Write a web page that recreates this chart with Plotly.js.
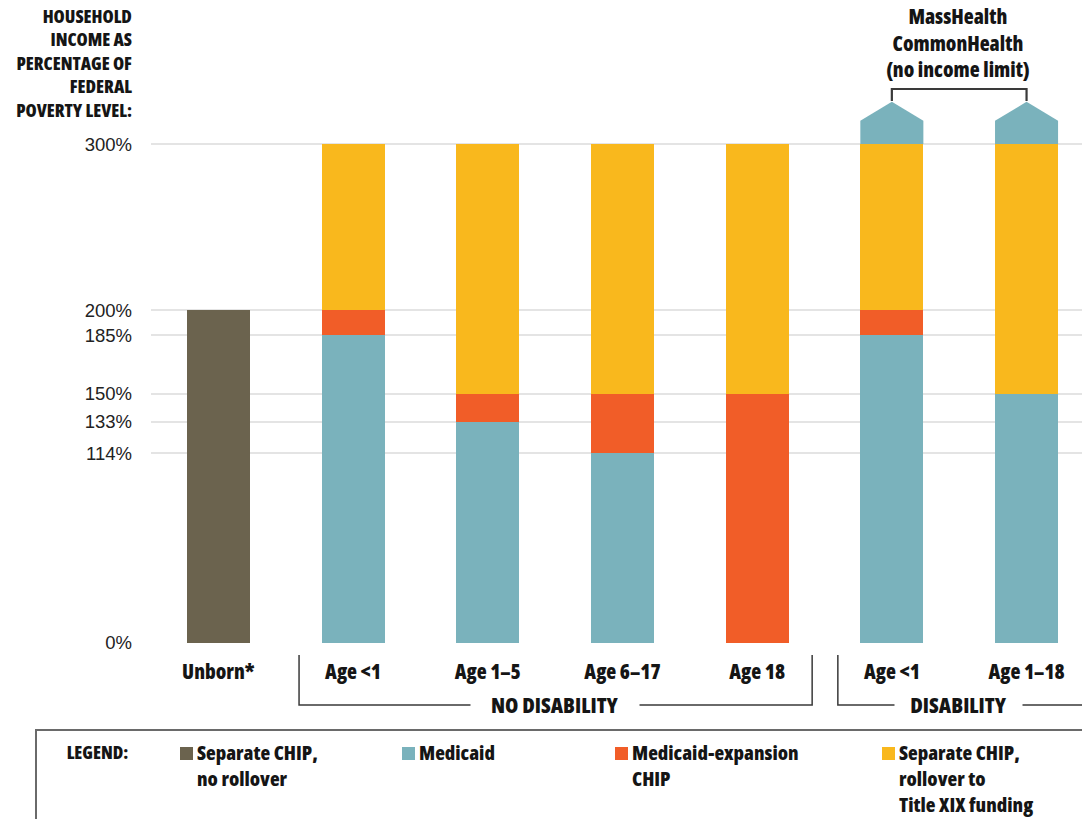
<!DOCTYPE html>
<html>
<head>
<meta charset="utf-8">
<script src="https://cdn.plot.ly/plotly-3.0.1.min.js"></script>
<style>html,body{margin:0;padding:0;background:#fff;}#chart{width:1082px;height:819px;}
.main-svg .annotation-text, .main-svg .xtick text { font-stretch: 82%; }
</style>
</head>
<body>
<div id="chart"></div>
<script>
// ---- data ----
const categories = ["Unborn*", "Age <1", "Age 1–5", "Age 6–17", "Age 18", "Age <1", "Age 1–18"];
const separateNoRollover = [200, 0, 0, 0, 0, 0, 0];
const medicaid = [0, 185, 133, 114, 0, 185, 150];
const medicaidExpansion = [0, 15, 17, 36, 150, 15, 0];
const separateRollover = [0, 100, 150, 150, 150, 100, 150];
const yTickVals = [0, 114, 133, 150, 185, 200, 300];
const yTickText = ["0%", "114%", "133%", "150%", "185%", "200%", "300%"];
const noLimitCats = [5, 6];           // bars with MassHealth CommonHealth
const groups = [
  {label: "NO DISABILITY", from: 1, to: 4},
  {label: "DISABILITY", from: 5, to: 6}
];
const legendItems = [
  {label: "Separate CHIP,<br>no rollover", color: "#6b634e"},
  {label: "Medicaid", color: "#7ab2bc"},
  {label: "Medicaid-expansion<br>CHIP", color: "#f15d28"},
  {label: "Separate CHIP,<br>rollover to<br>Title XIX funding", color: "#f9b81d"}
];

// ---- layout geometry ----
const W = 1082, H = 819;
const mL = 151, mR = 0, mT = 80, mB = 176;
const plotW = W - mL - mR, plotH = H - mT - mB;
const catPx = 134.7;
const xMax = plotW / catPx - 0.5;
const yMax = 338.5;
const barW = 0.468;
const px = x => (x - mL) / plotW;
const py = y => (H - mB - y) / plotH;
const NARROW = "'Open Sans', 'DejaVu Sans Condensed', sans-serif";
const TXT = "#151515";
const WT = 800;

const x = categories.map((c, i) => i);
function barTrace(vals, color, name) {
  return {type: "bar", x: x, y: vals, name: name, width: barW,
    marker: {color: color, line: {width: 0}}, hoverinfo: "skip", showlegend: false};
}
const data = [
  barTrace(separateNoRollover, legendItems[0].color, "Separate CHIP, no rollover"),
  barTrace(medicaid, legendItems[1].color, "Medicaid"),
  barTrace(medicaidExpansion, legendItems[2].color, "Medicaid-expansion CHIP"),
  barTrace(separateRollover, legendItems[3].color, "Separate CHIP, rollover")
];

const shapes = [];
const annotations = [];
const xc = i => mL + (i + 0.5) * catPx;   // category centre in px

// CommonHealth pentagons
const topVal = 300, shoulder = 314, peak = 325.4;
noLimitCats.forEach(i => {
  const a = i - barW / 2, b = i + barW / 2;
  shapes.push({type: "path", xref: "x", yref: "y",
    path: `M ${a},${topVal} L ${a},${shoulder} L ${i},${peak} L ${b},${shoulder} L ${b},${topVal} Z`,
    fillcolor: legendItems[1].color, line: {width: 0}, layer: "above"});
});
// bracket above pentagons
const brY = py(89);
shapes.push({type: "path", xref: "paper", yref: "paper",
  path: `M ${px(xc(5))},${py(101)} L ${px(xc(5))},${brY} L ${px(xc(6))},${brY} L ${px(xc(6))},${py(101)}`,
  line: {color: "#3a3a3a", width: 2.2}});
annotations.push({xref: "paper", yref: "paper", x: px(958), y: py(43), xanchor: "center", yanchor: "middle",
  text: "MassHealth<br>CommonHealth<br>(no income limit)", showarrow: false, align: "center",
  font: {family: NARROW, size: 20.5, color: TXT, weight: WT}});

// group brackets under axis
const gTop = py(655), gBot = py(705);
groups.forEach((g, k) => {
  const left = xc(g.from) - 54;
  let right = xc(g.to) + 55;
  const last = k === groups.length - 1;
  if (last) right = W + 20;
  shapes.push({type: "path", xref: "paper", yref: "paper",
    path: `M ${px(left)},${gTop} L ${px(left)},${gBot} L ${px(right)},${gBot}` + (last ? "" : ` L ${px(right)},${gTop}`),
    line: {color: "#3a3a3a", width: 1.5}});
  const cx = last ? 958 : (left + right) / 2 - 1;
  annotations.push({xref: "paper", yref: "paper", x: px(cx), y: py(704), xanchor: "center", yanchor: "middle",
    text: g.label, showarrow: false, bgcolor: "#ffffff", borderpad: 3,
    font: {family: NARROW, size: 21.5, color: TXT, weight: WT}});
});

// y-axis title
annotations.push({xref: "paper", yref: "paper", x: px(134), y: py(63), xanchor: "right", yanchor: "middle",
  text: "HOUSEHOLD<br>INCOME AS<br>PERCENTAGE OF<br>FEDERAL<br>POVERTY LEVEL:", showarrow: false, align: "right",
  font: {family: NARROW, size: 18, color: TXT, weight: WT}});

// legend box
shapes.push({type: "rect", xref: "paper", yref: "paper", x0: px(36), x1: px(W + 20), y0: py(730), y1: py(H + 20),
  line: {color: "#6a6a6a", width: 2}, fillcolor: "rgba(0,0,0,0)"});
annotations.push({xref: "paper", yref: "paper", x: px(57), y: py(752), xanchor: "left", yanchor: "middle",
  text: "LEGEND:", showarrow: false, font: {family: NARROW, size: 18, color: TXT, weight: WT}});
const legX = [180, 402, 615, 882];
legendItems.forEach((it, k) => {
  const sx = legX[k];
  shapes.push({type: "rect", xref: "paper", yref: "paper", x0: px(sx), x1: px(sx + 13), y0: py(747), y1: py(760),
    fillcolor: it.color, line: {width: 0}});
  annotations.push({xref: "paper", yref: "paper", x: px(sx + 15), y: py(737), xanchor: "left", yanchor: "top",
    text: it.label, showarrow: false, align: "left",
    font: {family: NARROW, size: 20, color: TXT, weight: WT}});
});

const layout = {
  width: W, height: H,
  margin: {l: mL, r: mR, t: mT, b: mB, pad: 0},
  paper_bgcolor: "#ffffff", plot_bgcolor: "#ffffff",
  barmode: "stack",
  showlegend: false,
  xaxis: {range: [-0.5, xMax], tickvals: x, ticktext: categories, ticks: "", showgrid: false,
    zeroline: false, showline: false, fixedrange: true, ticklabelstandoff: 14,
    tickfont: {family: NARROW, size: 20.5, color: TXT, weight: WT}},
  yaxis: {range: [0, yMax], tickvals: yTickVals, ticktext: yTickText, ticks: "",
    showgrid: true, gridcolor: "#e4e4e4", gridwidth: 2, zeroline: false, showline: false,
    ticklabelstandoff: 18, fixedrange: true,
    tickfont: {family: "'Liberation Sans', Arial, sans-serif", size: 18.5, color: "#222"}},
  shapes: shapes,
  annotations: annotations
};
Plotly.newPlot("chart", data, layout, {displayModeBar: false, staticPlot: true});
</script>
</body>
</html>
